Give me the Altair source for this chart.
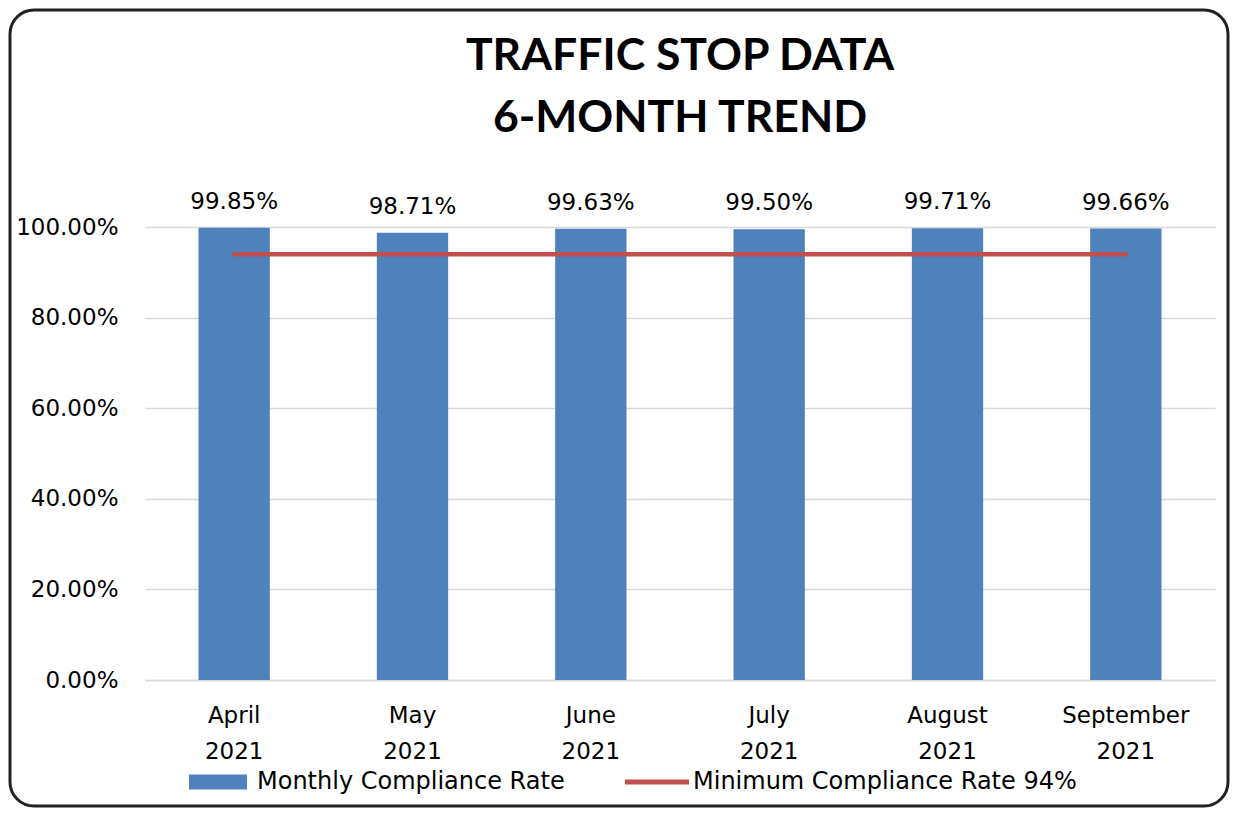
import altair as alt
import pandas as pd

months = ["April 2021", "May 2021", "June 2021", "July 2021", "August 2021", "September 2021"]
rates = [0.9985, 0.9871, 0.9963, 0.9950, 0.9971, 0.9966]
minimum = [0.94, 0.94, 0.94, 0.94, 0.94, 0.94]
series = ["Monthly Compliance Rate", "Minimum Compliance Rate 94%"]
colors = ["#4F81BD", "#C0504D"]
y_ticks = [0, 0.2, 0.4, 0.6, 0.8, 1.0]
title_lines = ["TRAFFIC STOP DATA", "6-MONTH TREND"]

df = pd.DataFrame({
    "month": months,
    "rate": rates,
    "minimum": minimum,
    "bar_series": [series[0]] * len(months),
    "line_series": [series[1]] * len(months),
})

FONT = "DejaVu Sans"

x_enc = alt.X(
    "month:N", sort=months, title=None,
    scale=alt.Scale(paddingInner=0.6, paddingOuter=0.3),
    axis=alt.Axis(
        labelExpr="split(datum.value, ' ')", labelAngle=0, labelFont=FONT,
        labelFontSize=23, labelColor="#000000", labelLineHeight=36,
        labelPadding=24, labelBaseline="top", ticks=False,
        domainColor="#D9D9D9", domainWidth=1.5, grid=False,
    ),
)

y_axis = alt.Axis(
    values=y_ticks, format=".2%", title=None, labelFont=FONT, labelFontSize=23,
    labelColor="#000000", labelPadding=27, domain=False, ticks=False,
    gridColor="#D9D9D9", gridWidth=1.5,
)

color_scale = alt.Scale(domain=series, range=colors)

shape_sig = ("datum.value == 'Monthly Compliance Rate' ? "
             "'M-1,-0.234H0.8125V0.234H-1Z' : 'M-1,-0.078H1V0.078H-1Z'")
fill_sig = "datum.value == 'Monthly Compliance Rate' ? '#4F81BD' : '#C0504D'"

legend = alt.Legend(
    title=None, orient="none", legendX=44, legendY=523, direction="horizontal",
    labelFont=FONT, labelFontSize=24, labelColor="#000000", labelLimit=700,
    labelOffset=4, columnPadding=60, symbolSize=4096, symbolStrokeWidth=0,
    symbolType=alt.ExprRef(expr=shape_sig),
    symbolFillColor=alt.ExprRef(expr=fill_sig),
    symbolOpacity=1,
)

bars = alt.Chart(df).mark_bar().encode(
    x=x_enc,
    y=alt.Y("rate:Q", scale=alt.Scale(domain=[0, 1]), axis=y_axis),
    color=alt.Color("bar_series:N", scale=color_scale, legend=legend),
)
line = alt.Chart(df).mark_line(strokeWidth=4.5, strokeCap="round").encode(
    x=x_enc,
    y=alt.Y("minimum:Q"),
    color=alt.Color("line_series:N", scale=color_scale, legend=legend),
)
labels = alt.Chart(df).mark_text(
    font=FONT, fontSize=23, color="#000000", baseline="alphabetic", dy=-19
).encode(
    x=x_enc,
    y=alt.Y("rate:Q"),
    text=alt.Text("rate:Q", format=".2%"),
)
frame = alt.Chart(pd.DataFrame({"k": [0]})).mark_rect(
    fill="transparent", stroke="#222222", strokeWidth=3, cornerRadius=24
).encode(
    x=alt.value(-135), x2=alt.value(1083), y=alt.value(-217), y2=alt.value(579)
)

chart = alt.layer(frame, bars, line, labels).properties(
    width=1070, height=453,
    background="white",
    title=alt.TitleParams(
        text=title_lines, font="Lato", fontSize=44.5, fontWeight="bold",
        color="#000000", lineHeight=62, anchor="middle", offset=-133,
    ),
    autosize=alt.AutoSizeParams(type="none"),
    padding={"left": 137, "top": 219, "right": 15, "bottom": 128},
).configure_view(stroke=None)

chart.save("out.html", embed_options={"renderer": "svg", "actions": False})
